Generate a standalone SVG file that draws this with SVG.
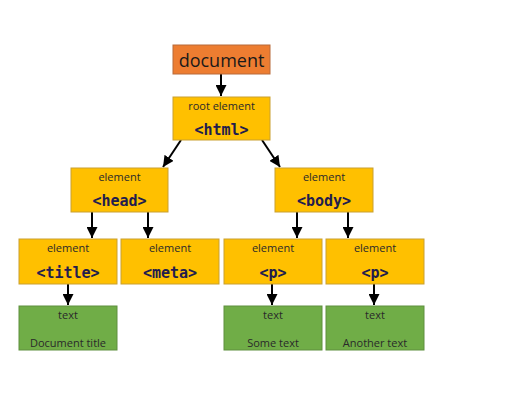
<svg xmlns="http://www.w3.org/2000/svg" width="511" height="406" viewBox="0 0 511 406">
<defs>
<marker id="ah" viewBox="0 0 10 10" refX="10" refY="5" markerWidth="11" markerHeight="11" markerUnits="userSpaceOnUse" orient="auto"><path d="M0,0 L10,5 L0,10 z" fill="#000"/></marker>
<style>
.el{fill:#FFC000;stroke:#C9A030;stroke-width:1}
.tx{fill:#70AD47;stroke:#5E8F3E;stroke-width:1}
.doc{fill:#ED7D31;stroke:#B86A3A;stroke-width:1}
.lb{font-family:"Open Sans","Noto Sans",sans-serif;font-size:11px;fill:#2a2a2a;text-anchor:middle}
.tg{font-family:"DejaVu Sans Mono",monospace;font-weight:bold;font-size:15px;fill:#221C4E;text-anchor:middle}
.cn{stroke:#000;stroke-width:2;fill:none;marker-end:url(#ah)}
</style>
</defs>
<rect width="511" height="406" fill="#fff"/>
<g id="connectors">
<line class="cn" x1="221" y1="74" x2="221" y2="96"/>
<line class="cn" x1="181" y1="140" x2="163" y2="167"/>
<line class="cn" x1="262" y1="140" x2="280" y2="167"/>
<line class="cn" x1="92" y1="212" x2="92" y2="238"/>
<line class="cn" x1="148" y1="212" x2="148" y2="238"/>
<line class="cn" x1="297" y1="212" x2="297" y2="238"/>
<line class="cn" x1="348" y1="212" x2="348" y2="238"/>
<line class="cn" x1="68" y1="284" x2="68" y2="305"/>
<line class="cn" x1="272" y1="284" x2="272" y2="305"/>
<line class="cn" x1="374" y1="284" x2="374" y2="305"/>
</g>
<g id="document"><rect class="doc" x="173" y="45" width="97" height="29"/><text x="221.5" y="66.5" font-family="Open Sans,Noto Sans,sans-serif" font-size="18" fill="#1a1a1a" text-anchor="middle">document</text></g>
<g id="html"><rect class="el" x="173" y="97" width="97" height="43"/><text class="lb" x="221.5" y="110">root element</text><text class="tg" x="221.5" y="135">&lt;html&gt;</text></g>
<g id="head"><rect class="el" x="71" y="168" width="97" height="44"/><text class="lb" x="119.5" y="181">element</text><text class="tg" x="119.5" y="206">&lt;head&gt;</text></g>
<g id="body"><rect class="el" x="275" y="168" width="98" height="44"/><text class="lb" x="324" y="181">element</text><text class="tg" x="324" y="206">&lt;body&gt;</text></g>
<g id="title"><rect class="el" x="19" y="239" width="98" height="45"/><text class="lb" x="68" y="252">element</text><text class="tg" x="68" y="278">&lt;title&gt;</text></g>
<g id="meta"><rect class="el" x="121" y="239" width="98" height="45"/><text class="lb" x="170" y="252">element</text><text class="tg" x="170" y="278">&lt;meta&gt;</text></g>
<g id="p1"><rect class="el" x="224" y="239" width="98" height="45"/><text class="lb" x="273" y="252">element</text><text class="tg" x="273" y="278">&lt;p&gt;</text></g>
<g id="p2"><rect class="el" x="326" y="239" width="98" height="45"/><text class="lb" x="375" y="252">element</text><text class="tg" x="375" y="278">&lt;p&gt;</text></g>
<g id="text1"><rect class="tx" x="19" y="306" width="98" height="44"/><text class="lb" x="68" y="319">text</text><text class="lb" x="68" y="347">Document title</text></g>
<g id="text2"><rect class="tx" x="224" y="306" width="98" height="44"/><text class="lb" x="273" y="319">text</text><text class="lb" x="273" y="347">Some text</text></g>
<g id="text3"><rect class="tx" x="326" y="306" width="98" height="44"/><text class="lb" x="375" y="319">text</text><text class="lb" x="375" y="347">Another text</text></g>
</svg>
